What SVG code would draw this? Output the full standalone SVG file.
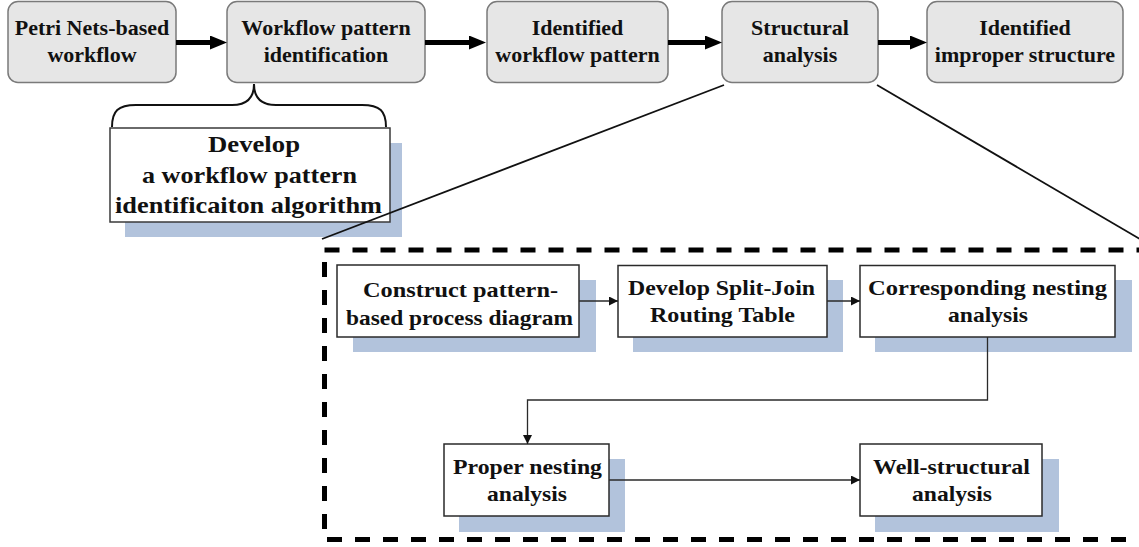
<svg xmlns="http://www.w3.org/2000/svg" width="1139" height="547" viewBox="0 0 1139 547">
  <style>
    .stage rect { fill: #e6e6e6; stroke: #7a7a7a; stroke-width: 1.5; }
    .stage text { font-family: "Liberation Serif", "Times New Roman", serif; font-weight: bold; font-size: 22px; fill: #111; text-anchor: middle; }
    .step .shadow, .note .shadow { fill: #b2c3dc; stroke: none; }
    .step .box { fill: #ffffff; stroke: #2a2a2a; stroke-width: 1.5; }
    .step text { font-family: "Liberation Serif", "Times New Roman", serif; font-weight: bold; font-size: 22px; fill: #111; text-anchor: middle; }
    .note .box { fill: #ffffff; stroke: #3a3a3a; stroke-width: 1.5; }
    .note text { font-family: "Liberation Serif", "Times New Roman", serif; font-weight: bold; font-size: 23px; fill: #111; text-anchor: middle; }
    .brace { fill: none; stroke: #111; stroke-width: 2; }
    .thick { stroke: #000; stroke-width: 5; fill: none; }
    .thin { stroke: #2a2a2a; stroke-width: 1.3; fill: none; }
    .zoomline { stroke: #111; stroke-width: 1.8; fill: none; }
    .frame { fill: none; stroke: #000; stroke-width: 5; stroke-dasharray: 15 13; }
  </style>
  <defs>
    <marker id="bigHead" markerUnits="userSpaceOnUse" markerWidth="18" markerHeight="14" refX="7" refY="7" orient="auto">
      <path d="M0,0 L17,7 L0,14 Z" fill="#000"/>
    </marker>
    <marker id="smallHead" markerUnits="userSpaceOnUse" markerWidth="10" markerHeight="10" refX="9" refY="4.5" orient="auto">
      <path d="M0,0 L9,4.5 L0,9 Z" fill="#111"/>
    </marker>
  </defs>

  <!-- top row: main process stages -->
  <g id="petri-nets-workflow" class="stage">
    <rect x="8" y="1.5" width="168" height="81" rx="10"/>
    <text x="92" y="35">Petri Nets-based</text>
    <text x="92" y="62">workflow</text>
  </g>
  <g id="workflow-pattern-identification" class="stage">
    <rect x="227" y="1.5" width="198" height="81" rx="10"/>
    <text x="326" y="35">Workflow pattern</text>
    <text x="326" y="62">identification</text>
  </g>
  <g id="identified-workflow-pattern" class="stage">
    <rect x="487" y="1.5" width="181" height="81" rx="10"/>
    <text x="577.5" y="35">Identified</text>
    <text x="577.5" y="62">workflow pattern</text>
  </g>
  <g id="structural-analysis" class="stage">
    <rect x="722" y="1.5" width="156" height="81" rx="10"/>
    <text x="800" y="35">Structural</text>
    <text x="800" y="62">analysis</text>
  </g>
  <g id="identified-improper-structure" class="stage">
    <rect x="927" y="1.5" width="196" height="81" rx="10"/>
    <text x="1025" y="35">Identified</text>
    <text x="1025" y="62">improper structure</text>
  </g>

  <!-- algorithm note hanging from the identification stage -->
  <g id="develop-algorithm" class="note">
    <path class="brace" d="M112,127 C112,111 118,105 136,105 L232,105 C247,105 254,97 254,84 C254,97 261,105 276,105 L362,105 C380,105 386,111 386,127"/>
    <rect class="shadow" x="125" y="143" width="277" height="94"/>
    <rect class="box" x="110" y="128" width="280" height="94"/>
    <text x="254" y="152" textLength="92" lengthAdjust="spacingAndGlyphs">Develop</text>
    <text x="249.5" y="183" textLength="215" lengthAdjust="spacingAndGlyphs">a workflow pattern</text>
    <text x="248.5" y="213" textLength="267" lengthAdjust="spacingAndGlyphs">identificaiton algorithm</text>
  </g>

  <!-- expanded detail of the structural analysis -->
  <g id="structural-analysis-detail">
    <rect class="frame" x="324.5" y="250" width="830" height="289.5"/>
  </g>

  <g id="construct-diagram" class="step">
    <rect class="shadow" x="353" y="280" width="243" height="72"/>
    <rect class="box" x="337" y="265" width="242" height="72"/>
    <text x="460.5" y="297" textLength="195" lengthAdjust="spacingAndGlyphs">Construct  pattern-</text>
    <text x="459.5" y="325" textLength="227" lengthAdjust="spacingAndGlyphs">based process diagram</text>
  </g>
  <g id="routing-table" class="step">
    <rect class="shadow" x="633" y="280" width="210" height="72"/>
    <rect class="box" x="618" y="265.5" width="209" height="71.5"/>
    <text x="721.5" y="295" textLength="187" lengthAdjust="spacingAndGlyphs">Develop Split-Join</text>
    <text x="722.5" y="322" textLength="145" lengthAdjust="spacingAndGlyphs">Routing Table</text>
  </g>
  <g id="corresponding-nesting" class="step">
    <rect class="shadow" x="875" y="280" width="257" height="72"/>
    <rect class="box" x="860" y="265.5" width="255" height="71.5"/>
    <text x="987.5" y="295" textLength="239" lengthAdjust="spacingAndGlyphs">Corresponding  nesting</text>
    <text x="988" y="322" textLength="80" lengthAdjust="spacingAndGlyphs">analysis</text>
  </g>
  <g id="proper-nesting" class="step">
    <rect class="shadow" x="459" y="459" width="166" height="73"/>
    <rect class="box" x="444" y="444" width="165" height="72"/>
    <text x="527.5" y="474" textLength="149" lengthAdjust="spacingAndGlyphs">Proper nesting</text>
    <text x="527" y="501" textLength="80" lengthAdjust="spacingAndGlyphs">analysis</text>
  </g>
  <g id="well-structural" class="step">
    <rect class="shadow" x="875" y="459" width="184" height="73"/>
    <rect class="box" x="860" y="444" width="182" height="72"/>
    <text x="951.5" y="474" textLength="157" lengthAdjust="spacingAndGlyphs">Well-structural</text>
    <text x="952" y="501" textLength="80" lengthAdjust="spacingAndGlyphs">analysis</text>
  </g>

  <!-- connectors -->
  <g id="connectors">
    <line class="thick" x1="176" y1="42.5" x2="217" y2="42.5" marker-end="url(#bigHead)"/>
    <line class="thick" x1="425" y1="42.5" x2="476" y2="42.5" marker-end="url(#bigHead)"/>
    <line class="thick" x1="668" y1="42.5" x2="712" y2="42.5" marker-end="url(#bigHead)"/>
    <line class="thick" x1="878" y1="42.5" x2="917" y2="42.5" marker-end="url(#bigHead)"/>

    <line class="zoomline" x1="724" y1="85" x2="322" y2="239"/>
    <line class="zoomline" x1="877" y1="85" x2="1145" y2="242"/>

    <line class="thin" x1="579" y1="301" x2="618" y2="301" marker-end="url(#smallHead)"/>
    <line class="thin" x1="827" y1="301" x2="860" y2="301" marker-end="url(#smallHead)"/>
    <path class="thin" d="M987.5,337 V400 H527.5 V444" marker-end="url(#smallHead)"/>
    <line class="thin" x1="609" y1="480" x2="860" y2="480" marker-end="url(#smallHead)"/>
  </g>
</svg>
